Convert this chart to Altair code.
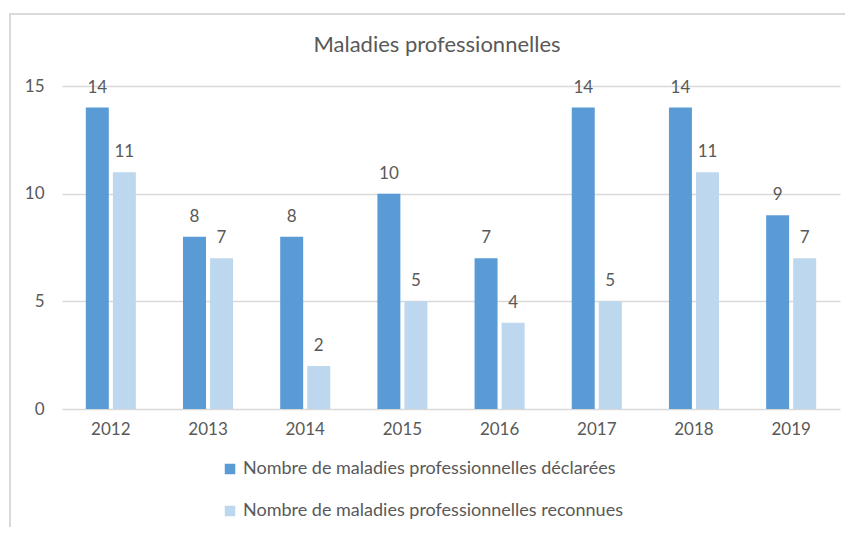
import altair as alt
import pandas as pd

years = ["2012", "2013", "2014", "2015", "2016", "2017", "2018", "2019"]
declarees = [14, 8, 8, 10, 7, 14, 14, 9]
reconnues = [11, 7, 2, 5, 4, 5, 11, 7]
series = [
    "Nombre de maladies professionnelles déclarées",
    "Nombre de maladies professionnelles reconnues",
]
colors = ["#5B9BD5", "#BDD7EE"]
y_ticks = [0, 5, 10, 15]
title_text = "Maladies professionnelles"

rows = []
for yr, d, r in zip(years, declarees, reconnues):
    rows.append({"year": yr, "series": series[0], "value": d})
    rows.append({"year": yr, "series": series[1], "value": r})
df = pd.DataFrame(rows)

FONT = "Lato"
TXT = "#595959"
GRID = "#D9D9D9"

x_enc = alt.X(
    "year:N",
    sort=years,
    scale=alt.Scale(paddingInner=0.485, paddingOuter=0.245),
    axis=alt.Axis(
        title=None, labelAngle=0, ticks=False, domain=False, grid=False,
        labelFontSize=17, labelColor=TXT, labelFont=FONT, labelPadding=12,
    ),
)
xo_enc = alt.XOffset("series:N", sort=series, scale=alt.Scale(paddingInner=0.15))
y_enc = alt.Y(
    "value:Q",
    scale=alt.Scale(domain=[0, 15], nice=False),
    axis=alt.Axis(
        values=y_ticks, title=None, ticks=False, domain=False,
        gridColor=GRID, gridWidth=1.5, labelFontSize=17, labelColor=TXT,
        labelFont=FONT, labelPadding=18,
    ),
)

base = alt.Chart(df)

bars = base.mark_bar().encode(
    x=x_enc,
    xOffset=xo_enc,
    y=y_enc,
    color=alt.Color(
        "series:N",
        scale=alt.Scale(domain=series, range=colors),
        legend=alt.Legend(
            title=None, orient="none", legendX=159, legendY=374,
            direction="vertical", symbolType="square", symbolSize=110,
            symbolStrokeWidth=0, labelFontSize=18, labelFont=FONT,
            labelColor=TXT, labelOffset=4, rowPadding=24, padding=0,
            labelLimit=600,
        ),
    ),
)

labels = base.mark_text(
    baseline="alphabetic", dy=-15, fontSize=17, font=FONT, color=TXT
).encode(
    x=x_enc, xOffset=xo_enc, y=y_enc, text=alt.Text("value:Q")
)

frame = alt.Chart(pd.DataFrame({"k": [0]})).mark_rect(
    fill=None, stroke=GRID, strokeWidth=2
).encode(
    x=alt.value(-52), x2=alt.value(900), y=alt.value(-72), y2=alt.value(700)
)

title = alt.Chart(pd.DataFrame({"t": [title_text]})).mark_text(
    fontSize=22, font=FONT, color=TXT, align="center", baseline="middle"
).encode(
    text="t:N", x=alt.value(375), y=alt.value(-41)
)

chart = alt.layer(frame, bars, labels, title).properties(
    width=778,
    height=323,
    padding={"left": 54, "top": 78, "right": 5, "bottom": 118},
    autosize=alt.AutoSizeParams(type="none"),
).configure_view(stroke=None)

chart.save("out.html", embed_options={"renderer": "svg", "actions": False})
